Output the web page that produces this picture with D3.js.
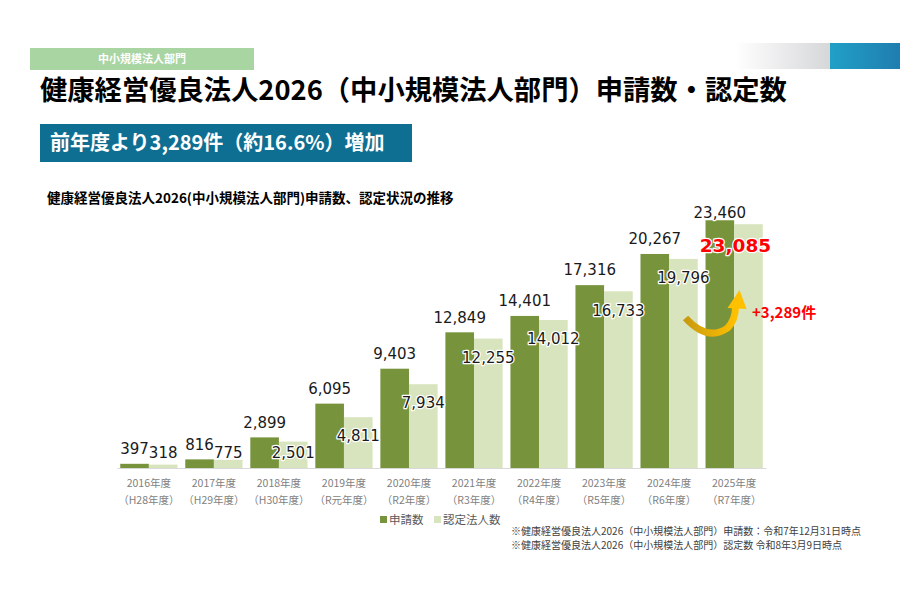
<!DOCTYPE html>
<html><head><meta charset="utf-8">
<script src="https://cdn.jsdelivr.net/npm/d3@7"></script>
<style>
html,body{margin:0;padding:0;background:#fff;}
svg{display:block;}
</style></head>
<body>
<svg id="c" width="900" height="600"></svg>
<script>
const years = ["2016年度","2017年度","2018年度","2019年度","2020年度","2021年度","2022年度","2023年度","2024年度","2025年度"];
const eras = ["（H28年度）","（H29年度）","（H30年度）","（R元年度）","（R2年度）","（R3年度）","（R4年度）","（R5年度）","（R6年度）","（R7年度）"];
const applications = [397,816,2899,6095,9403,12849,14401,17316,20267,23460];
const certified = [318,775,2501,4811,7934,12255,14012,16733,19796,23085];
const seriesNames = ["申請数","認定法人数"];
const notes = ["※健康経営優良法人2026（中小規模法人部門）申請数：令和7年12月31日時点","※健康経営優良法人2026（中小規模法人部門）認定数  令和8年3月9日時点"];

const C_APP = "#77933c", C_CERT = "#d7e4bd";
const JP = "'Noto Sans CJK JP','Noto Sans',sans-serif";
const NUM = "'DejaVu Sans',Verdana,sans-serif";

const svg = d3.select("#c");
const defs = svg.append("defs");

// header decorations
const g1 = defs.append("linearGradient").attr("id","gTop").attr("x1",0).attr("x2",1);
g1.append("stop").attr("offset",0).attr("stop-color","#ffffff");
g1.append("stop").attr("offset",1).attr("stop-color","#d6d7d9");
const g2 = defs.append("linearGradient").attr("id","gBlue").attr("x1",0).attr("x2",1);
g2.append("stop").attr("offset",0).attr("stop-color","#21a0c6");
g2.append("stop").attr("offset",1).attr("stop-color","#1f7db0");
svg.append("rect").attr("x",735).attr("y",43).attr("width",95).attr("height",26).attr("fill","url(#gTop)");
svg.append("rect").attr("x",830).attr("y",43).attr("width",70).attr("height",26).attr("fill","url(#gBlue)");

svg.append("rect").attr("x",30).attr("y",48).attr("width",224).attr("height",22).attr("fill","#a9d5a3");
svg.append("text").attr("x",142).attr("y",63).attr("text-anchor","middle")
  .attr("font-family",JP).attr("font-weight","bold").attr("font-size",11).attr("fill","#fff")
  .text("中小規模法人部門");

svg.append("text").attr("x",40).attr("y",100)
  .attr("font-family",JP).attr("font-weight","bold").attr("font-size",27.3).attr("fill","#000")
  .text("健康経営優良法人2026（中小規模法人部門）申請数・認定数");

svg.append("rect").attr("x",40).attr("y",124).attr("width",372).attr("height",38).attr("fill","#0f6f93");
svg.append("text").attr("x",50).attr("y",150)
  .attr("font-family",JP).attr("font-weight","bold").attr("font-size",20).attr("fill","#fff")
  .text("前年度より3,289件（約16.6%）増加");

svg.append("text").attr("x",47).attr("y",203)
  .attr("font-family",JP).attr("font-weight","bold").attr("font-size",13.5).attr("fill","#000")
  .text("健康経営優良法人2026(中小規模法人部門)申請数、認定状況の推移");

// scales
const x = d3.scaleBand().domain(years).range([117,766]).paddingInner(0.12).paddingOuter(0.05);
const xs = d3.scaleBand().domain([0,1]).range([0,x.bandwidth()]);
const y = d3.scaleLinear().domain([0,25000]).range([468,204]);

const data = years.map((yr,i)=>({yr, era:eras[i], vals:[applications[i],certified[i]]}));

const gBars = svg.append("g");
data.forEach(d=>{
  [0,1].forEach(s=>{
    gBars.append("rect")
      .attr("x",x(d.yr)+xs(s)).attr("width",xs.bandwidth())
      .attr("y",y(d.vals[s])).attr("height",y(0)-y(d.vals[s]))
      .attr("fill", s===0?C_APP:C_CERT);
  });
});

// axis
const axis = d3.axisBottom(x).tickSize(0).tickFormat(()=> "");
const ga = svg.append("g").attr("transform",`translate(0,${y(0)})`).call(axis);
ga.select(".domain").attr("stroke","#d9d9d9").attr("stroke-width",1.2);
ga.selectAll(".tick").each(function(d,i){
  const t = d3.select(this);
  t.append("text").attr("y",19).attr("text-anchor","middle").attr("fill","#7f7f7f")
    .attr("font-family",JP).attr("font-size",10.5).text(years[i]);
  t.append("text").attr("y",36).attr("text-anchor","middle").attr("fill","#7f7f7f")
    .attr("font-family",JP).attr("font-size",10.5).text(eras[i]);
});

// value labels
const fmt = d3.format(",");
const gl = svg.append("g").attr("font-family",NUM).attr("font-size",15);
data.forEach((d,i)=>{
  const cx0 = x(d.yr)+xs(0)+xs.bandwidth()/2;
  const cx1 = x(d.yr)+xs(1)+xs.bandwidth()/2;
  const y0 = Math.max(y(d.vals[0])-15, 213);
  gl.append("text").attr("x",cx0).attr("y",y0).attr("dy","0.35em").attr("text-anchor","middle")
    .attr("fill","#1a1a1a").attr("stroke","#fff").attr("stroke-width",2.5).attr("paint-order","stroke")
    .attr("stroke-linejoin","round").text(fmt(d.vals[0]));
  if(i < data.length-1){
    const y1 = Math.min(y(d.vals[1])+19, y(0)-15);
    gl.append("text").attr("x",cx1).attr("y",y1).attr("dy","0.35em").attr("text-anchor","middle")
      .attr("fill","#1a1a1a").attr("stroke","#fff").attr("stroke-width",2.5).attr("paint-order","stroke")
      .attr("stroke-linejoin","round").text(fmt(d.vals[1]));
  } else {
    gl.append("text").attr("x",cx1-13).attr("y",y(d.vals[1])+21).attr("dy","0.35em").attr("text-anchor","middle")
      .attr("font-size",18.5).attr("font-weight","bold")
      .attr("fill","#ff0000").attr("stroke","#fff").attr("stroke-width",2.5).attr("paint-order","stroke")
      .attr("stroke-linejoin","round").text(fmt(d.vals[1]));
  }
});

// curved arrow
const ga2 = defs.append("linearGradient").attr("id","gArr").attr("x1",0).attr("x2",1).attr("y1",0).attr("y2",0);
ga2.append("stop").attr("offset",0).attr("stop-color","#c99a10");
ga2.append("stop").attr("offset",1).attr("stop-color","#ffc000");
const last = data[data.length-1];
const ax = x(last.yr);
svg.append("path")
  .attr("d",`M${ax-20},318 Q${ax+2},342 ${ax+22},328 Q${ax+30},320 ${ax+30},306`)
  .attr("fill","none").attr("stroke","url(#gArr)").attr("stroke-width",7).attr("stroke-linecap","butt");
svg.append("path")
  .attr("d",`M${ax+34},290 L${ax+41},309 L${ax+22},308 Z`)
  .attr("fill","#ffc000");
svg.append("text").attr("x",752).attr("y",318)
  .attr("font-family",JP).attr("font-weight","bold").attr("font-size",15).attr("fill","#ff0000")
  .text("+3,289件");

// legend
const lg = svg.append("g").attr("font-family",JP).attr("font-size",11.5).attr("fill","#595959");
[[380,C_APP,seriesNames[0]],[434,C_CERT,seriesNames[1]]].forEach(([lx,col,name])=>{
  lg.append("rect").attr("x",lx).attr("y",516).attr("width",7).attr("height",7).attr("fill",col);
  lg.append("text").attr("x",lx+9).attr("y",524).text(name);
});

// notes
notes.forEach((n,i)=>{
  svg.append("text").attr("x",511).attr("y",534.5+i*14)
    .attr("font-family",JP).attr("font-size",10).attr("fill","#404040").text(n);
});
</script>
</body></html>
